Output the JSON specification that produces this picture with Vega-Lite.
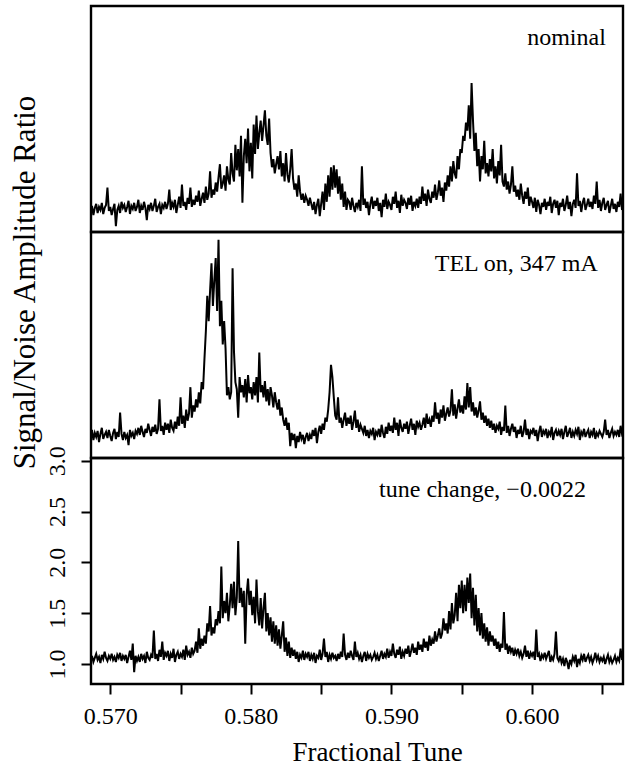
{
"$schema":"https://vega.github.io/schema/vega-lite/v6.json",
"background":"white",
"padding":{"left":8,"top":4,"right":8,"bottom":0},
"spacing":0,
"bounds":"flush",
"config":{"font":"Liberation Serif","view":{"stroke":"black","strokeWidth":2.4},"axis":{"grid":false,"domain":false,"labelColor":"black","titleColor":"black","tickColor":"black","titleFontWeight":"normal","labelFont":"Liberation Serif","titleFont":"Liberation Serif"}},
"datasets":{
"nominal":[
{"x":0.5686,"y":1.00},{"x":0.5687,"y":1.06},{"x":0.5688,"y":0.97},{"x":0.5689,"y":1.04},{"x":0.5690,"y":1.08},{"x":0.5691,"y":0.99},{"x":0.5692,"y":1.05},{"x":0.5693,"y":1.02},{"x":0.5694,"y":1.09},{"x":0.5695,"y":0.98},{"x":0.5696,"y":1.04},{"x":0.5697,"y":1.07},{"x":0.5698,"y":1.24},{"x":0.5699,"y":1.01},
{"x":0.5700,"y":1.05},{"x":0.5701,"y":0.97},{"x":0.5702,"y":1.03},{"x":0.5703,"y":1.08},{"x":0.5704,"y":0.86},{"x":0.5705,"y":1.02},{"x":0.5706,"y":1.06},{"x":0.5707,"y":0.99},{"x":0.5708,"y":1.10},{"x":0.5709,"y":1.04},
{"x":0.5710,"y":1.07},{"x":0.5711,"y":1.00},{"x":0.5712,"y":1.05},{"x":0.5713,"y":1.11},{"x":0.5714,"y":0.98},{"x":0.5715,"y":1.06},{"x":0.5716,"y":1.03},{"x":0.5717,"y":1.09},{"x":0.5718,"y":1.01},{"x":0.5719,"y":1.05},
{"x":0.5720,"y":1.12},{"x":0.5721,"y":0.99},{"x":0.5722,"y":1.06},{"x":0.5723,"y":1.02},{"x":0.5724,"y":1.10},{"x":0.5725,"y":1.04},{"x":0.5726,"y":0.92},{"x":0.5727,"y":1.07},{"x":0.5728,"y":1.03},{"x":0.5729,"y":1.09},
{"x":0.5730,"y":1.01},{"x":0.5731,"y":1.06},{"x":0.5732,"y":1.13},{"x":0.5733,"y":1.00},{"x":0.5734,"y":1.05},{"x":0.5735,"y":1.08},{"x":0.5736,"y":0.98},{"x":0.5737,"y":1.07},{"x":0.5738,"y":1.04},{"x":0.5739,"y":1.10},
{"x":0.5740,"y":1.03},{"x":0.5741,"y":1.08},{"x":0.5742,"y":1.22},{"x":0.5743,"y":1.02},{"x":0.5744,"y":1.09},{"x":0.5745,"y":1.05},{"x":0.5746,"y":1.12},{"x":0.5747,"y":0.99},{"x":0.5748,"y":1.07},{"x":0.5749,"y":1.15},
{"x":0.5750,"y":1.04},{"x":0.5751,"y":1.27},{"x":0.5752,"y":1.06},{"x":0.5753,"y":1.10},{"x":0.5754,"y":1.02},{"x":0.5755,"y":1.14},{"x":0.5756,"y":1.08},{"x":0.5757,"y":1.24},{"x":0.5758,"y":1.05},{"x":0.5759,"y":1.12},
{"x":0.5760,"y":1.07},{"x":0.5761,"y":1.16},{"x":0.5762,"y":1.10},{"x":0.5763,"y":1.21},{"x":0.5764,"y":1.06},{"x":0.5765,"y":1.13},{"x":0.5766,"y":1.19},{"x":0.5767,"y":1.09},{"x":0.5768,"y":1.25},{"x":0.5769,"y":1.12},
{"x":0.5770,"y":1.18},{"x":0.5771,"y":1.40},{"x":0.5772,"y":1.14},{"x":0.5773,"y":1.22},{"x":0.5774,"y":1.17},{"x":0.5775,"y":1.29},{"x":0.5776,"y":1.20},{"x":0.5777,"y":1.34},{"x":0.5778,"y":1.47},{"x":0.5779,"y":1.23},
{"x":0.5780,"y":1.28},{"x":0.5781,"y":1.36},{"x":0.5782,"y":1.21},{"x":0.5783,"y":1.45},{"x":0.5784,"y":1.32},{"x":0.5785,"y":1.27},{"x":0.5786,"y":1.58},{"x":0.5787,"y":1.38},{"x":0.5788,"y":1.30},{"x":0.5789,"y":1.66},
{"x":0.5790,"y":1.41},{"x":0.5791,"y":1.62},{"x":0.5792,"y":1.35},{"x":0.5793,"y":1.75},{"x":0.5794,"y":1.09},{"x":0.5795,"y":1.55},{"x":0.5796,"y":1.72},{"x":0.5797,"y":1.48},{"x":0.5798,"y":1.82},{"x":0.5799,"y":1.40},
{"x":0.5800,"y":1.68},{"x":0.5801,"y":1.33},{"x":0.5802,"y":1.86},{"x":0.5803,"y":1.57},{"x":0.5804,"y":1.95},{"x":0.5805,"y":1.62},{"x":0.5806,"y":1.78},{"x":0.5807,"y":1.90},{"x":0.5808,"y":1.70},{"x":0.5809,"y":1.85},
{"x":0.5810,"y":2.00},{"x":0.5811,"y":1.75},{"x":0.5812,"y":1.66},{"x":0.5813,"y":1.92},{"x":0.5814,"y":1.58},{"x":0.5815,"y":1.44},{"x":0.5816,"y":1.52},{"x":0.5817,"y":1.38},{"x":0.5818,"y":1.47},{"x":0.5819,"y":1.55},
{"x":0.5820,"y":1.42},{"x":0.5821,"y":1.60},{"x":0.5822,"y":1.35},{"x":0.5823,"y":1.48},{"x":0.5824,"y":1.30},{"x":0.5825,"y":1.58},{"x":0.5826,"y":1.37},{"x":0.5827,"y":1.29},{"x":0.5828,"y":1.42},{"x":0.5829,"y":1.62},
{"x":0.5830,"y":1.33},{"x":0.5831,"y":1.22},{"x":0.5832,"y":1.28},{"x":0.5833,"y":1.15},{"x":0.5834,"y":1.36},{"x":0.5835,"y":1.20},{"x":0.5836,"y":1.12},{"x":0.5837,"y":1.18},{"x":0.5838,"y":1.09},{"x":0.5839,"y":1.16},
{"x":0.5840,"y":1.12},{"x":0.5841,"y":1.06},{"x":0.5842,"y":1.14},{"x":0.5843,"y":1.08},{"x":0.5844,"y":1.02},{"x":0.5845,"y":1.10},{"x":0.5846,"y":0.98},{"x":0.5847,"y":1.07},{"x":0.5848,"y":1.13},{"x":0.5849,"y":0.96},
{"x":0.5850,"y":1.08},{"x":0.5851,"y":1.20},{"x":0.5852,"y":1.02},{"x":0.5853,"y":1.28},{"x":0.5854,"y":1.10},{"x":0.5855,"y":1.36},{"x":0.5856,"y":1.15},{"x":0.5857,"y":1.44},{"x":0.5858,"y":1.22},{"x":0.5859,"y":1.46},
{"x":0.5860,"y":1.24},{"x":0.5861,"y":1.42},{"x":0.5862,"y":1.18},{"x":0.5863,"y":1.35},{"x":0.5864,"y":1.12},{"x":0.5865,"y":1.28},{"x":0.5866,"y":1.05},{"x":0.5867,"y":1.20},{"x":0.5868,"y":1.02},{"x":0.5869,"y":1.12},
{"x":0.5870,"y":1.10},{"x":0.5871,"y":1.02},{"x":0.5872,"y":1.14},{"x":0.5873,"y":1.06},{"x":0.5874,"y":1.00},{"x":0.5875,"y":1.09},{"x":0.5876,"y":1.05},{"x":0.5877,"y":1.12},{"x":0.5878,"y":1.01},{"x":0.5879,"y":1.45},
{"x":0.5880,"y":1.07},{"x":0.5881,"y":1.13},{"x":0.5882,"y":1.04},{"x":0.5883,"y":1.10},{"x":0.5884,"y":0.97},{"x":0.5885,"y":1.08},{"x":0.5886,"y":1.15},{"x":0.5887,"y":1.03},{"x":0.5888,"y":1.11},{"x":0.5889,"y":1.06},
{"x":0.5890,"y":1.14},{"x":0.5891,"y":1.01},{"x":0.5892,"y":1.09},{"x":0.5893,"y":0.95},{"x":0.5894,"y":1.12},{"x":0.5895,"y":1.05},{"x":0.5896,"y":1.18},{"x":0.5897,"y":1.03},{"x":0.5898,"y":1.10},{"x":0.5899,"y":1.07},
{"x":0.5900,"y":1.02},{"x":0.5901,"y":1.15},{"x":0.5902,"y":1.08},{"x":0.5903,"y":1.20},{"x":0.5904,"y":1.04},{"x":0.5905,"y":1.11},{"x":0.5906,"y":0.99},{"x":0.5907,"y":1.17},{"x":0.5908,"y":1.06},{"x":0.5909,"y":1.12},
{"x":0.5910,"y":1.09},{"x":0.5911,"y":1.03},{"x":0.5912,"y":1.14},{"x":0.5913,"y":1.07},{"x":0.5914,"y":1.16},{"x":0.5915,"y":1.01},{"x":0.5916,"y":1.10},{"x":0.5917,"y":1.06},{"x":0.5918,"y":1.13},{"x":0.5919,"y":1.04},
{"x":0.5920,"y":1.15},{"x":0.5921,"y":1.08},{"x":0.5922,"y":1.25},{"x":0.5923,"y":1.11},{"x":0.5924,"y":1.18},{"x":0.5925,"y":1.06},{"x":0.5926,"y":1.22},{"x":0.5927,"y":1.13},{"x":0.5928,"y":1.09},{"x":0.5929,"y":1.20},
{"x":0.5930,"y":1.14},{"x":0.5931,"y":1.27},{"x":0.5932,"y":1.12},{"x":0.5933,"y":1.19},{"x":0.5934,"y":1.31},{"x":0.5935,"y":1.16},{"x":0.5936,"y":1.24},{"x":0.5937,"y":1.10},{"x":0.5938,"y":1.29},{"x":0.5939,"y":1.21},
{"x":0.5940,"y":1.36},{"x":0.5941,"y":1.25},{"x":0.5942,"y":1.45},{"x":0.5943,"y":1.30},{"x":0.5944,"y":1.50},{"x":0.5945,"y":1.38},{"x":0.5946,"y":1.33},{"x":0.5947,"y":1.55},{"x":0.5948,"y":1.42},{"x":0.5949,"y":1.62},
{"x":0.5950,"y":1.58},{"x":0.5951,"y":1.75},{"x":0.5952,"y":1.70},{"x":0.5953,"y":1.88},{"x":0.5954,"y":1.80},{"x":0.5955,"y":2.05},{"x":0.5956,"y":1.72},{"x":0.5957,"y":2.27},{"x":0.5958,"y":1.90},{"x":0.5959,"y":1.60},
{"x":0.5960,"y":1.78},{"x":0.5961,"y":1.45},{"x":0.5962,"y":1.62},{"x":0.5963,"y":1.30},{"x":0.5964,"y":1.55},{"x":0.5965,"y":1.42},{"x":0.5966,"y":1.70},{"x":0.5967,"y":1.38},{"x":0.5968,"y":1.48},{"x":0.5969,"y":1.35},
{"x":0.5970,"y":1.52},{"x":0.5971,"y":1.40},{"x":0.5972,"y":1.62},{"x":0.5973,"y":1.33},{"x":0.5974,"y":1.45},{"x":0.5975,"y":1.28},{"x":0.5976,"y":1.50},{"x":0.5977,"y":1.36},{"x":0.5978,"y":1.66},{"x":0.5979,"y":1.30},
{"x":0.5980,"y":1.25},{"x":0.5981,"y":1.38},{"x":0.5982,"y":1.22},{"x":0.5983,"y":1.30},{"x":0.5984,"y":1.18},{"x":0.5985,"y":1.27},{"x":0.5986,"y":1.45},{"x":0.5987,"y":1.20},{"x":0.5988,"y":1.26},{"x":0.5989,"y":1.15},
{"x":0.5990,"y":1.22},{"x":0.5991,"y":1.12},{"x":0.5992,"y":1.28},{"x":0.5993,"y":1.16},{"x":0.5994,"y":1.08},{"x":0.5995,"y":1.20},{"x":0.5996,"y":1.13},{"x":0.5997,"y":1.24},{"x":0.5998,"y":1.06},{"x":0.5999,"y":1.15},
{"x":0.6000,"y":1.10},{"x":0.6001,"y":1.04},{"x":0.6002,"y":1.14},{"x":0.6003,"y":1.00},{"x":0.6004,"y":1.12},{"x":0.6005,"y":1.07},{"x":0.6006,"y":0.98},{"x":0.6007,"y":1.09},{"x":0.6008,"y":1.05},{"x":0.6009,"y":1.13},
{"x":0.6010,"y":1.02},{"x":0.6011,"y":1.10},{"x":0.6012,"y":1.06},{"x":0.6013,"y":1.15},{"x":0.6014,"y":0.99},{"x":0.6015,"y":1.08},{"x":0.6016,"y":1.12},{"x":0.6017,"y":1.04},{"x":0.6018,"y":1.11},{"x":0.6019,"y":0.97},
{"x":0.6020,"y":1.09},{"x":0.6021,"y":1.05},{"x":0.6022,"y":1.13},{"x":0.6023,"y":1.01},{"x":0.6024,"y":1.07},{"x":0.6025,"y":1.16},{"x":0.6026,"y":1.03},{"x":0.6027,"y":1.10},{"x":0.6028,"y":0.96},{"x":0.6029,"y":1.08},
{"x":0.6030,"y":1.12},{"x":0.6031,"y":1.04},{"x":0.6032,"y":1.38},{"x":0.6033,"y":1.06},{"x":0.6034,"y":1.11},{"x":0.6035,"y":1.00},{"x":0.6036,"y":1.09},{"x":0.6037,"y":1.14},{"x":0.6038,"y":1.02},{"x":0.6039,"y":1.07},
{"x":0.6040,"y":1.13},{"x":0.6041,"y":1.05},{"x":0.6042,"y":1.10},{"x":0.6043,"y":1.03},{"x":0.6044,"y":1.16},{"x":0.6045,"y":1.08},{"x":0.6046,"y":1.30},{"x":0.6047,"y":1.04},{"x":0.6048,"y":1.12},{"x":0.6049,"y":1.01},
{"x":0.6050,"y":1.09},{"x":0.6051,"y":1.14},{"x":0.6052,"y":1.02},{"x":0.6053,"y":1.07},{"x":0.6054,"y":1.11},{"x":0.6055,"y":0.99},{"x":0.6056,"y":1.06},{"x":0.6057,"y":1.13},{"x":0.6058,"y":1.03},{"x":0.6059,"y":1.08},
{"x":0.6060,"y":1.00},{"x":0.6061,"y":1.10},{"x":0.6062,"y":1.05},{"x":0.6063,"y":1.18},{"x":0.6064,"y":1.02},{"x":0.6065,"y":1.07}
],
"tel":[
{"x":0.5686,"y":1.02},{"x":0.5687,"y":1.08},{"x":0.5688,"y":0.98},{"x":0.5689,"y":1.05},{"x":0.5690,"y":1.01},{"x":0.5691,"y":1.07},{"x":0.5692,"y":0.96},{"x":0.5693,"y":1.04},{"x":0.5694,"y":1.10},{"x":0.5695,"y":0.99},{"x":0.5696,"y":1.03},{"x":0.5697,"y":1.06},{"x":0.5698,"y":1.00},{"x":0.5699,"y":1.08},
{"x":0.5700,"y":1.02},{"x":0.5701,"y":0.97},{"x":0.5702,"y":1.05},{"x":0.5703,"y":1.09},{"x":0.5704,"y":0.99},{"x":0.5705,"y":1.06},{"x":0.5706,"y":1.01},{"x":0.5707,"y":1.25},{"x":0.5708,"y":1.04},{"x":0.5709,"y":0.98},
{"x":0.5710,"y":1.06},{"x":0.5711,"y":1.00},{"x":0.5712,"y":1.03},{"x":0.5713,"y":0.93},{"x":0.5714,"y":1.08},{"x":0.5715,"y":1.02},{"x":0.5716,"y":1.05},{"x":0.5717,"y":0.99},{"x":0.5718,"y":1.07},{"x":0.5719,"y":1.04},
{"x":0.5720,"y":1.10},{"x":0.5721,"y":1.03},{"x":0.5722,"y":1.12},{"x":0.5723,"y":1.06},{"x":0.5724,"y":1.01},{"x":0.5725,"y":1.09},{"x":0.5726,"y":1.05},{"x":0.5727,"y":1.14},{"x":0.5728,"y":1.08},{"x":0.5729,"y":1.02},
{"x":0.5730,"y":1.11},{"x":0.5731,"y":1.06},{"x":0.5732,"y":1.13},{"x":0.5733,"y":1.04},{"x":0.5734,"y":1.09},{"x":0.5735,"y":1.38},{"x":0.5736,"y":1.07},{"x":0.5737,"y":1.12},{"x":0.5738,"y":1.03},{"x":0.5739,"y":1.15},
{"x":0.5740,"y":1.08},{"x":0.5741,"y":1.14},{"x":0.5742,"y":1.05},{"x":0.5743,"y":1.18},{"x":0.5744,"y":1.10},{"x":0.5745,"y":1.07},{"x":0.5746,"y":1.16},{"x":0.5747,"y":1.09},{"x":0.5748,"y":1.21},{"x":0.5749,"y":1.12},
{"x":0.5750,"y":1.40},{"x":0.5751,"y":1.14},{"x":0.5752,"y":1.22},{"x":0.5753,"y":1.10},{"x":0.5754,"y":1.28},{"x":0.5755,"y":1.17},{"x":0.5756,"y":1.24},{"x":0.5757,"y":1.50},{"x":0.5758,"y":1.20},{"x":0.5759,"y":1.32},
{"x":0.5760,"y":1.26},{"x":0.5761,"y":1.38},{"x":0.5762,"y":1.30},{"x":0.5763,"y":1.45},{"x":0.5764,"y":1.34},{"x":0.5765,"y":1.55},{"x":0.5766,"y":1.48},{"x":0.5767,"y":1.78},{"x":0.5768,"y":2.05},{"x":0.5769,"y":2.40},
{"x":0.5770,"y":2.15},{"x":0.5771,"y":2.45},{"x":0.5772,"y":2.72},{"x":0.5773,"y":2.30},{"x":0.5774,"y":2.55},{"x":0.5775,"y":2.77},{"x":0.5776,"y":2.25},{"x":0.5777,"y":2.95},{"x":0.5778,"y":2.10},{"x":0.5779,"y":2.35},
{"x":0.5780,"y":1.92},{"x":0.5781,"y":2.15},{"x":0.5782,"y":1.88},{"x":0.5783,"y":1.42},{"x":0.5784,"y":1.50},{"x":0.5785,"y":1.38},{"x":0.5786,"y":1.45},{"x":0.5787,"y":2.67},{"x":0.5788,"y":1.85},{"x":0.5789,"y":1.55},
{"x":0.5790,"y":1.48},{"x":0.5791,"y":1.20},{"x":0.5792,"y":1.60},{"x":0.5793,"y":1.45},{"x":0.5794,"y":1.52},{"x":0.5795,"y":1.40},{"x":0.5796,"y":1.58},{"x":0.5797,"y":1.35},{"x":0.5798,"y":1.62},{"x":0.5799,"y":1.44},
{"x":0.5800,"y":1.50},{"x":0.5801,"y":1.38},{"x":0.5802,"y":1.55},{"x":0.5803,"y":1.42},{"x":0.5804,"y":1.60},{"x":0.5805,"y":1.35},{"x":0.5806,"y":1.84},{"x":0.5807,"y":1.45},{"x":0.5808,"y":1.52},{"x":0.5809,"y":1.40},
{"x":0.5810,"y":1.56},{"x":0.5811,"y":1.36},{"x":0.5812,"y":1.48},{"x":0.5813,"y":1.32},{"x":0.5814,"y":1.50},{"x":0.5815,"y":1.42},{"x":0.5816,"y":1.30},{"x":0.5817,"y":1.45},{"x":0.5818,"y":1.35},{"x":0.5819,"y":1.28},
{"x":0.5820,"y":1.38},{"x":0.5821,"y":1.22},{"x":0.5822,"y":1.30},{"x":0.5823,"y":1.18},{"x":0.5824,"y":1.12},{"x":0.5825,"y":1.20},{"x":0.5826,"y":1.08},{"x":0.5827,"y":1.15},{"x":0.5828,"y":0.92},{"x":0.5829,"y":1.05},
{"x":0.5830,"y":0.98},{"x":0.5831,"y":1.04},{"x":0.5832,"y":0.90},{"x":0.5833,"y":1.02},{"x":0.5834,"y":0.96},{"x":0.5835,"y":1.06},{"x":0.5836,"y":0.99},{"x":0.5837,"y":1.03},{"x":0.5838,"y":0.94},{"x":0.5839,"y":1.01},
{"x":0.5840,"y":1.05},{"x":0.5841,"y":0.97},{"x":0.5842,"y":1.03},{"x":0.5843,"y":0.99},{"x":0.5844,"y":1.08},{"x":0.5845,"y":1.02},{"x":0.5846,"y":1.10},{"x":0.5847,"y":0.95},{"x":0.5848,"y":1.06},{"x":0.5849,"y":1.12},
{"x":0.5850,"y":1.04},{"x":0.5851,"y":1.14},{"x":0.5852,"y":1.08},{"x":0.5853,"y":1.20},{"x":0.5854,"y":1.16},{"x":0.5855,"y":1.28},{"x":0.5856,"y":1.45},{"x":0.5857,"y":1.72},{"x":0.5858,"y":1.60},{"x":0.5859,"y":1.40},
{"x":0.5860,"y":1.22},{"x":0.5861,"y":1.18},{"x":0.5862,"y":1.40},{"x":0.5863,"y":1.15},{"x":0.5864,"y":1.20},{"x":0.5865,"y":1.10},{"x":0.5866,"y":1.18},{"x":0.5867,"y":1.25},{"x":0.5868,"y":1.12},{"x":0.5869,"y":1.20},
{"x":0.5870,"y":1.14},{"x":0.5871,"y":1.22},{"x":0.5872,"y":1.08},{"x":0.5873,"y":1.16},{"x":0.5874,"y":1.27},{"x":0.5875,"y":1.10},{"x":0.5876,"y":1.18},{"x":0.5877,"y":1.06},{"x":0.5878,"y":1.13},{"x":0.5879,"y":1.09},
{"x":0.5880,"y":1.05},{"x":0.5881,"y":1.12},{"x":0.5882,"y":1.02},{"x":0.5883,"y":1.08},{"x":0.5884,"y":1.00},{"x":0.5885,"y":1.07},{"x":0.5886,"y":1.04},{"x":0.5887,"y":1.10},{"x":0.5888,"y":0.98},{"x":0.5889,"y":1.06},
{"x":0.5890,"y":1.03},{"x":0.5891,"y":1.09},{"x":0.5892,"y":1.01},{"x":0.5893,"y":1.13},{"x":0.5894,"y":1.05},{"x":0.5895,"y":1.00},{"x":0.5896,"y":1.11},{"x":0.5897,"y":1.04},{"x":0.5898,"y":1.15},{"x":0.5899,"y":1.07},
{"x":0.5900,"y":1.12},{"x":0.5901,"y":1.05},{"x":0.5902,"y":1.20},{"x":0.5903,"y":1.08},{"x":0.5904,"y":1.15},{"x":0.5905,"y":1.02},{"x":0.5906,"y":1.18},{"x":0.5907,"y":1.10},{"x":0.5908,"y":1.06},{"x":0.5909,"y":1.14},
{"x":0.5910,"y":1.09},{"x":0.5911,"y":1.16},{"x":0.5912,"y":1.04},{"x":0.5913,"y":1.12},{"x":0.5914,"y":1.19},{"x":0.5915,"y":1.08},{"x":0.5916,"y":1.14},{"x":0.5917,"y":1.03},{"x":0.5918,"y":1.17},{"x":0.5919,"y":1.11},
{"x":0.5920,"y":1.15},{"x":0.5921,"y":1.08},{"x":0.5922,"y":1.13},{"x":0.5923,"y":1.20},{"x":0.5924,"y":1.10},{"x":0.5925,"y":1.24},{"x":0.5926,"y":1.14},{"x":0.5927,"y":1.18},{"x":0.5928,"y":1.11},{"x":0.5929,"y":1.22},
{"x":0.5930,"y":1.16},{"x":0.5931,"y":1.35},{"x":0.5932,"y":1.19},{"x":0.5933,"y":1.25},{"x":0.5934,"y":1.14},{"x":0.5935,"y":1.28},{"x":0.5936,"y":1.20},{"x":0.5937,"y":1.32},{"x":0.5938,"y":1.17},{"x":0.5939,"y":1.24},
{"x":0.5940,"y":1.30},{"x":0.5941,"y":1.21},{"x":0.5942,"y":1.27},{"x":0.5943,"y":1.48},{"x":0.5944,"y":1.22},{"x":0.5945,"y":1.33},{"x":0.5946,"y":1.19},{"x":0.5947,"y":1.29},{"x":0.5948,"y":1.38},{"x":0.5949,"y":1.25},
{"x":0.5950,"y":1.32},{"x":0.5951,"y":1.24},{"x":0.5952,"y":1.41},{"x":0.5953,"y":1.28},{"x":0.5954,"y":1.54},{"x":0.5955,"y":1.30},{"x":0.5956,"y":1.50},{"x":0.5957,"y":1.26},{"x":0.5958,"y":1.35},{"x":0.5959,"y":1.22},
{"x":0.5960,"y":1.30},{"x":0.5961,"y":1.20},{"x":0.5962,"y":1.27},{"x":0.5963,"y":1.36},{"x":0.5964,"y":1.18},{"x":0.5965,"y":1.25},{"x":0.5966,"y":1.15},{"x":0.5967,"y":1.22},{"x":0.5968,"y":1.12},{"x":0.5969,"y":1.19},
{"x":0.5970,"y":1.10},{"x":0.5971,"y":1.17},{"x":0.5972,"y":1.08},{"x":0.5973,"y":1.14},{"x":0.5974,"y":1.05},{"x":0.5975,"y":1.12},{"x":0.5976,"y":1.09},{"x":0.5977,"y":1.16},{"x":0.5978,"y":1.03},{"x":0.5979,"y":1.11},
{"x":0.5980,"y":1.07},{"x":0.5981,"y":1.32},{"x":0.5982,"y":1.05},{"x":0.5983,"y":1.12},{"x":0.5984,"y":1.02},{"x":0.5985,"y":1.09},{"x":0.5986,"y":1.14},{"x":0.5987,"y":1.06},{"x":0.5988,"y":1.11},{"x":0.5989,"y":1.00},
{"x":0.5990,"y":1.08},{"x":0.5991,"y":1.04},{"x":0.5992,"y":1.12},{"x":0.5993,"y":1.01},{"x":0.5994,"y":1.06},{"x":0.5995,"y":1.18},{"x":0.5996,"y":1.03},{"x":0.5997,"y":1.09},{"x":0.5998,"y":0.99},{"x":0.5999,"y":1.07},
{"x":0.6000,"y":1.05},{"x":0.6001,"y":1.10},{"x":0.6002,"y":1.02},{"x":0.6003,"y":1.08},{"x":0.6004,"y":0.97},{"x":0.6005,"y":1.06},{"x":0.6006,"y":1.12},{"x":0.6007,"y":1.01},{"x":0.6008,"y":1.07},{"x":0.6009,"y":1.04},
{"x":0.6010,"y":1.09},{"x":0.6011,"y":1.00},{"x":0.6012,"y":1.06},{"x":0.6013,"y":1.03},{"x":0.6014,"y":1.11},{"x":0.6015,"y":0.98},{"x":0.6016,"y":1.05},{"x":0.6017,"y":1.08},{"x":0.6018,"y":1.02},{"x":0.6019,"y":1.07},
{"x":0.6020,"y":1.03},{"x":0.6021,"y":1.09},{"x":0.6022,"y":0.99},{"x":0.6023,"y":1.06},{"x":0.6024,"y":1.12},{"x":0.6025,"y":1.01},{"x":0.6026,"y":1.05},{"x":0.6027,"y":1.10},{"x":0.6028,"y":1.00},{"x":0.6029,"y":1.06},
{"x":0.6030,"y":1.02},{"x":0.6031,"y":1.08},{"x":0.6032,"y":1.04},{"x":0.6033,"y":1.11},{"x":0.6034,"y":0.98},{"x":0.6035,"y":1.06},{"x":0.6036,"y":1.03},{"x":0.6037,"y":1.09},{"x":0.6038,"y":1.01},{"x":0.6039,"y":1.05},
{"x":0.6040,"y":1.08},{"x":0.6041,"y":1.00},{"x":0.6042,"y":1.06},{"x":0.6043,"y":1.03},{"x":0.6044,"y":1.10},{"x":0.6045,"y":0.99},{"x":0.6046,"y":1.05},{"x":0.6047,"y":1.02},{"x":0.6048,"y":1.07},{"x":0.6049,"y":1.04},
{"x":0.6050,"y":1.01},{"x":0.6051,"y":1.06},{"x":0.6052,"y":1.18},{"x":0.6053,"y":1.03},{"x":0.6054,"y":1.08},{"x":0.6055,"y":1.00},{"x":0.6056,"y":1.05},{"x":0.6057,"y":1.09},{"x":0.6058,"y":1.02},{"x":0.6059,"y":1.06},
{"x":0.6060,"y":1.03},{"x":0.6061,"y":1.08},{"x":0.6062,"y":1.01},{"x":0.6063,"y":1.12},{"x":0.6064,"y":1.04},{"x":0.6065,"y":1.07}
],
"tune":[
{"x":0.5686,"y":1.03},{"x":0.5687,"y":1.08},{"x":0.5688,"y":1.02},{"x":0.5689,"y":1.06},{"x":0.5690,"y":1.10},{"x":0.5691,"y":1.04},{"x":0.5692,"y":1.07},{"x":0.5693,"y":1.01},{"x":0.5694,"y":1.09},{"x":0.5695,"y":1.05},{"x":0.5696,"y":1.12},{"x":0.5697,"y":1.06},{"x":0.5698,"y":1.03},{"x":0.5699,"y":1.08},
{"x":0.5700,"y":1.05},{"x":0.5701,"y":1.10},{"x":0.5702,"y":1.04},{"x":0.5703,"y":1.07},{"x":0.5704,"y":1.02},{"x":0.5705,"y":1.09},{"x":0.5706,"y":1.06},{"x":0.5707,"y":1.11},{"x":0.5708,"y":1.03},{"x":0.5709,"y":1.08},
{"x":0.5710,"y":1.05},{"x":0.5711,"y":1.09},{"x":0.5712,"y":1.01},{"x":0.5713,"y":1.07},{"x":0.5714,"y":1.13},{"x":0.5715,"y":1.04},{"x":0.5716,"y":1.20},{"x":0.5717,"y":0.92},{"x":0.5718,"y":1.08},{"x":0.5719,"y":1.03},
{"x":0.5720,"y":1.07},{"x":0.5721,"y":1.02},{"x":0.5722,"y":1.10},{"x":0.5723,"y":1.05},{"x":0.5724,"y":1.08},{"x":0.5725,"y":1.01},{"x":0.5726,"y":1.12},{"x":0.5727,"y":1.06},{"x":0.5728,"y":1.04},{"x":0.5729,"y":1.09},
{"x":0.5730,"y":1.06},{"x":0.5731,"y":1.33},{"x":0.5732,"y":1.05},{"x":0.5733,"y":1.10},{"x":0.5734,"y":1.03},{"x":0.5735,"y":1.14},{"x":0.5736,"y":1.07},{"x":0.5737,"y":1.22},{"x":0.5738,"y":1.04},{"x":0.5739,"y":1.11},
{"x":0.5740,"y":1.08},{"x":0.5741,"y":1.13},{"x":0.5742,"y":1.03},{"x":0.5743,"y":1.10},{"x":0.5744,"y":1.06},{"x":0.5745,"y":1.15},{"x":0.5746,"y":1.02},{"x":0.5747,"y":1.09},{"x":0.5748,"y":1.12},{"x":0.5749,"y":1.05},
{"x":0.5750,"y":1.10},{"x":0.5751,"y":1.07},{"x":0.5752,"y":1.14},{"x":0.5753,"y":1.04},{"x":0.5754,"y":1.18},{"x":0.5755,"y":1.09},{"x":0.5756,"y":1.12},{"x":0.5757,"y":1.06},{"x":0.5758,"y":1.16},{"x":0.5759,"y":1.10},
{"x":0.5760,"y":1.13},{"x":0.5761,"y":1.22},{"x":0.5762,"y":1.11},{"x":0.5763,"y":1.35},{"x":0.5764,"y":1.15},{"x":0.5765,"y":1.25},{"x":0.5766,"y":1.18},{"x":0.5767,"y":1.28},{"x":0.5768,"y":1.20},{"x":0.5769,"y":1.40},
{"x":0.5770,"y":1.32},{"x":0.5771,"y":1.57},{"x":0.5772,"y":1.28},{"x":0.5773,"y":1.36},{"x":0.5774,"y":1.30},{"x":0.5775,"y":1.44},{"x":0.5776,"y":1.38},{"x":0.5777,"y":1.52},{"x":0.5778,"y":1.40},{"x":0.5779,"y":1.96},
{"x":0.5780,"y":1.45},{"x":0.5781,"y":1.62},{"x":0.5782,"y":1.50},{"x":0.5783,"y":1.70},{"x":0.5784,"y":1.42},{"x":0.5785,"y":1.58},{"x":0.5786,"y":1.79},{"x":0.5787,"y":1.55},{"x":0.5788,"y":1.81},{"x":0.5789,"y":1.48},
{"x":0.5790,"y":1.65},{"x":0.5791,"y":2.21},{"x":0.5792,"y":1.60},{"x":0.5793,"y":1.75},{"x":0.5794,"y":1.56},{"x":0.5795,"y":1.72},{"x":0.5796,"y":1.20},{"x":0.5797,"y":1.68},{"x":0.5798,"y":1.84},{"x":0.5799,"y":1.58},
{"x":0.5800,"y":1.72},{"x":0.5801,"y":1.48},{"x":0.5802,"y":1.66},{"x":0.5803,"y":1.40},{"x":0.5804,"y":1.83},{"x":0.5805,"y":1.52},{"x":0.5806,"y":1.38},{"x":0.5807,"y":1.65},{"x":0.5808,"y":1.35},{"x":0.5809,"y":1.55},
{"x":0.5810,"y":1.70},{"x":0.5811,"y":1.32},{"x":0.5812,"y":1.50},{"x":0.5813,"y":1.28},{"x":0.5814,"y":1.46},{"x":0.5815,"y":1.22},{"x":0.5816,"y":1.42},{"x":0.5817,"y":1.20},{"x":0.5818,"y":1.38},{"x":0.5819,"y":1.18},
{"x":0.5820,"y":1.34},{"x":0.5821,"y":1.15},{"x":0.5822,"y":1.28},{"x":0.5823,"y":1.42},{"x":0.5824,"y":1.12},{"x":0.5825,"y":1.26},{"x":0.5826,"y":1.08},{"x":0.5827,"y":1.22},{"x":0.5828,"y":1.06},{"x":0.5829,"y":1.16},
{"x":0.5830,"y":1.08},{"x":0.5831,"y":1.14},{"x":0.5832,"y":1.05},{"x":0.5833,"y":1.12},{"x":0.5834,"y":1.02},{"x":0.5835,"y":1.09},{"x":0.5836,"y":1.06},{"x":0.5837,"y":1.13},{"x":0.5838,"y":1.04},{"x":0.5839,"y":1.10},
{"x":0.5840,"y":1.07},{"x":0.5841,"y":1.12},{"x":0.5842,"y":1.03},{"x":0.5843,"y":1.09},{"x":0.5844,"y":1.05},{"x":0.5845,"y":1.11},{"x":0.5846,"y":1.01},{"x":0.5847,"y":1.08},{"x":0.5848,"y":1.06},{"x":0.5849,"y":1.14},
{"x":0.5850,"y":1.04},{"x":0.5851,"y":1.10},{"x":0.5852,"y":1.25},{"x":0.5853,"y":1.07},{"x":0.5854,"y":1.12},{"x":0.5855,"y":1.02},{"x":0.5856,"y":1.09},{"x":0.5857,"y":1.05},{"x":0.5858,"y":1.11},{"x":0.5859,"y":1.06},
{"x":0.5860,"y":1.08},{"x":0.5861,"y":1.03},{"x":0.5862,"y":1.10},{"x":0.5863,"y":1.05},{"x":0.5864,"y":1.12},{"x":0.5865,"y":1.07},{"x":0.5866,"y":1.30},{"x":0.5867,"y":1.09},{"x":0.5868,"y":1.04},{"x":0.5869,"y":1.11},
{"x":0.5870,"y":1.06},{"x":0.5871,"y":1.13},{"x":0.5872,"y":1.08},{"x":0.5873,"y":1.04},{"x":0.5874,"y":1.22},{"x":0.5875,"y":1.07},{"x":0.5876,"y":1.11},{"x":0.5877,"y":1.05},{"x":0.5878,"y":1.09},{"x":0.5879,"y":1.02},
{"x":0.5880,"y":1.08},{"x":0.5881,"y":1.12},{"x":0.5882,"y":1.03},{"x":0.5883,"y":1.10},{"x":0.5884,"y":1.06},{"x":0.5885,"y":1.09},{"x":0.5886,"y":1.04},{"x":0.5887,"y":1.07},{"x":0.5888,"y":1.11},{"x":0.5889,"y":1.05},
{"x":0.5890,"y":1.09},{"x":0.5891,"y":1.03},{"x":0.5892,"y":1.08},{"x":0.5893,"y":1.13},{"x":0.5894,"y":1.05},{"x":0.5895,"y":1.10},{"x":0.5896,"y":1.07},{"x":0.5897,"y":1.15},{"x":0.5898,"y":1.06},{"x":0.5899,"y":1.12},
{"x":0.5900,"y":1.08},{"x":0.5901,"y":1.20},{"x":0.5902,"y":1.10},{"x":0.5903,"y":1.06},{"x":0.5904,"y":1.14},{"x":0.5905,"y":1.09},{"x":0.5906,"y":1.17},{"x":0.5907,"y":1.05},{"x":0.5908,"y":1.12},{"x":0.5909,"y":1.08},
{"x":0.5910,"y":1.15},{"x":0.5911,"y":1.10},{"x":0.5912,"y":1.18},{"x":0.5913,"y":1.07},{"x":0.5914,"y":1.13},{"x":0.5915,"y":1.20},{"x":0.5916,"y":1.11},{"x":0.5917,"y":1.16},{"x":0.5918,"y":1.09},{"x":0.5919,"y":1.22},
{"x":0.5920,"y":1.14},{"x":0.5921,"y":1.19},{"x":0.5922,"y":1.12},{"x":0.5923,"y":1.25},{"x":0.5924,"y":1.16},{"x":0.5925,"y":1.22},{"x":0.5926,"y":1.13},{"x":0.5927,"y":1.28},{"x":0.5928,"y":1.18},{"x":0.5929,"y":1.24},
{"x":0.5930,"y":1.20},{"x":0.5931,"y":1.32},{"x":0.5932,"y":1.22},{"x":0.5933,"y":1.28},{"x":0.5934,"y":1.35},{"x":0.5935,"y":1.25},{"x":0.5936,"y":1.30},{"x":0.5937,"y":1.45},{"x":0.5938,"y":1.33},{"x":0.5939,"y":1.40},
{"x":0.5940,"y":1.30},{"x":0.5941,"y":1.52},{"x":0.5942,"y":1.34},{"x":0.5943,"y":1.60},{"x":0.5944,"y":1.40},{"x":0.5945,"y":1.48},{"x":0.5946,"y":1.70},{"x":0.5947,"y":1.42},{"x":0.5948,"y":1.78},{"x":0.5949,"y":1.55},
{"x":0.5950,"y":1.82},{"x":0.5951,"y":1.50},{"x":0.5952,"y":1.78},{"x":0.5953,"y":1.52},{"x":0.5954,"y":1.85},{"x":0.5955,"y":1.60},{"x":0.5956,"y":1.89},{"x":0.5957,"y":1.45},{"x":0.5958,"y":1.75},{"x":0.5959,"y":1.38},
{"x":0.5960,"y":1.68},{"x":0.5961,"y":1.32},{"x":0.5962,"y":1.55},{"x":0.5963,"y":1.28},{"x":0.5964,"y":1.50},{"x":0.5965,"y":1.25},{"x":0.5966,"y":1.40},{"x":0.5967,"y":1.22},{"x":0.5968,"y":1.36},{"x":0.5969,"y":1.18},
{"x":0.5970,"y":1.32},{"x":0.5971,"y":1.22},{"x":0.5972,"y":1.28},{"x":0.5973,"y":1.18},{"x":0.5974,"y":1.25},{"x":0.5975,"y":1.15},{"x":0.5976,"y":1.22},{"x":0.5977,"y":1.12},{"x":0.5978,"y":1.20},{"x":0.5979,"y":1.16},
{"x":0.5980,"y":1.51},{"x":0.5981,"y":1.14},{"x":0.5982,"y":1.20},{"x":0.5983,"y":1.10},{"x":0.5984,"y":1.18},{"x":0.5985,"y":1.12},{"x":0.5986,"y":1.16},{"x":0.5987,"y":1.08},{"x":0.5988,"y":1.14},{"x":0.5989,"y":1.10},
{"x":0.5990,"y":1.15},{"x":0.5991,"y":1.08},{"x":0.5992,"y":1.12},{"x":0.5993,"y":1.06},{"x":0.5994,"y":1.10},{"x":0.5995,"y":1.18},{"x":0.5996,"y":1.07},{"x":0.5997,"y":1.13},{"x":0.5998,"y":1.05},{"x":0.5999,"y":1.11},
{"x":0.6000,"y":1.08},{"x":0.6001,"y":1.12},{"x":0.6002,"y":1.04},{"x":0.6003,"y":1.34},{"x":0.6004,"y":1.07},{"x":0.6005,"y":1.10},{"x":0.6006,"y":1.03},{"x":0.6007,"y":1.09},{"x":0.6008,"y":1.06},{"x":0.6009,"y":1.11},
{"x":0.6010,"y":1.05},{"x":0.6011,"y":1.09},{"x":0.6012,"y":1.13},{"x":0.6013,"y":1.02},{"x":0.6014,"y":1.07},{"x":0.6015,"y":1.04},{"x":0.6016,"y":1.10},{"x":0.6017,"y":1.32},{"x":0.6018,"y":1.06},{"x":0.6019,"y":1.03},
{"x":0.6020,"y":1.08},{"x":0.6021,"y":1.01},{"x":0.6022,"y":1.05},{"x":0.6023,"y":0.98},{"x":0.6024,"y":1.06},{"x":0.6025,"y":1.02},{"x":0.6026,"y":0.95},{"x":0.6027,"y":1.04},{"x":0.6028,"y":1.00},{"x":0.6029,"y":1.07},
{"x":0.6030,"y":1.03},{"x":0.6031,"y":1.09},{"x":0.6032,"y":0.97},{"x":0.6033,"y":1.05},{"x":0.6034,"y":1.01},{"x":0.6035,"y":1.08},{"x":0.6036,"y":1.04},{"x":0.6037,"y":1.10},{"x":0.6038,"y":1.02},{"x":0.6039,"y":1.06},
{"x":0.6040,"y":1.09},{"x":0.6041,"y":1.03},{"x":0.6042,"y":1.07},{"x":0.6043,"y":1.01},{"x":0.6044,"y":1.05},{"x":0.6045,"y":1.11},{"x":0.6046,"y":1.04},{"x":0.6047,"y":1.08},{"x":0.6048,"y":1.02},{"x":0.6049,"y":1.06},
{"x":0.6050,"y":1.03},{"x":0.6051,"y":1.07},{"x":0.6052,"y":1.00},{"x":0.6053,"y":1.05},{"x":0.6054,"y":1.09},{"x":0.6055,"y":1.02},{"x":0.6056,"y":1.06},{"x":0.6057,"y":1.01},{"x":0.6058,"y":1.04},{"x":0.6059,"y":1.08},
{"x":0.6060,"y":1.02},{"x":0.6061,"y":1.06},{"x":0.6062,"y":1.03},{"x":0.6063,"y":1.15},{"x":0.6064,"y":1.04},{"x":0.6065,"y":1.08}
]
},
"vconcat":[
{
"width":532,"height":226,
"encoding":{
"x":{"field":"x","type":"quantitative","scale":{"domain":[0.56863,0.60647],"nice":false,"zero":false},"axis":null},
"y":{"field":"y","type":"quantitative","scale":{"domain":[0.803,3.027],"nice":false,"zero":false},
"axis":{"labels":false,"ticks":false,"domain":false,"title":"Signal/Noise Amplitude Ratio","titleFontSize":31,"titleAngle":270,"titleX":-56.7,"titleY":276,"titleAlign":"center","titleBaseline":"alphabetic"}}
},
"layer":[
{"data":{"name":"nominal"},"mark":{"type":"line","color":"black","strokeWidth":2,"clip":true}},
{"data":{"values":[{"label":"nominal","x":0.60525,"y":2.64}]},"mark":{"type":"text","align":"right","baseline":"alphabetic","fontSize":24,"font":"Liberation Serif","color":"black"},"encoding":{"text":{"field":"label"}}}
]
},
{
"width":532,"height":226,
"encoding":{
"x":{"field":"x","type":"quantitative","scale":{"domain":[0.56863,0.60647],"nice":false,"zero":false},"axis":null},
"y":{"field":"y","type":"quantitative","scale":{"domain":[0.803,3.027],"nice":false,"zero":false},"axis":null}
},
"layer":[
{"data":{"name":"tel"},"mark":{"type":"line","color":"black","strokeWidth":2,"clip":true}},
{"data":{"values":[{"label":"TEL on, 347 mA","x":0.60468,"y":2.64}]},"mark":{"type":"text","align":"right","baseline":"alphabetic","fontSize":24,"font":"Liberation Serif","color":"black"},"encoding":{"text":{"field":"label"}}}
]
},
{
"width":532,"height":226,
"encoding":{
"x":{"field":"x","type":"quantitative","scale":{"domain":[0.56863,0.60647],"nice":false,"zero":false},
"axis":{"values":[0.570,0.575,0.580,0.585,0.590,0.595,0.600,0.605],"labelExpr":"abs(datum.value*100 - round(datum.value*100)) < 0.001 ? format(datum.value, '.3f') : ''","labelFontSize":24,"labelBaseline":"alphabetic","labelPadding":29,"tickSize":10,"tickWidth":2,"labelOverlap":false,"labelFlush":false,"title":"Fractional Tune","titleFontSize":27,"titleX":286,"titleY":76,"titleAlign":"center","titleBaseline":"alphabetic"}},
"y":{"field":"y","type":"quantitative","scale":{"domain":[0.803,3.027],"nice":false,"zero":false},
"axis":{"values":[1,1.5,2,2.5,3],"format":".1f","labelAngle":270,"labelAlign":"center","labelBaseline":"alphabetic","labelPadding":16.7,"labelFontSize":24,"tickSize":10,"tickWidth":2,"labelOverlap":false,"labelFlush":false,"labelBound":false,"title":null}}
},
"layer":[
{"data":{"name":"tune"},"mark":{"type":"line","color":"black","strokeWidth":2,"clip":true}},
{"data":{"values":[{"label":"tune change, −0.0022","x":0.60383,"y":2.64}]},"mark":{"type":"text","align":"right","baseline":"alphabetic","fontSize":24,"font":"Liberation Serif","color":"black"},"encoding":{"text":{"field":"label"}}}
]
}
]
}
